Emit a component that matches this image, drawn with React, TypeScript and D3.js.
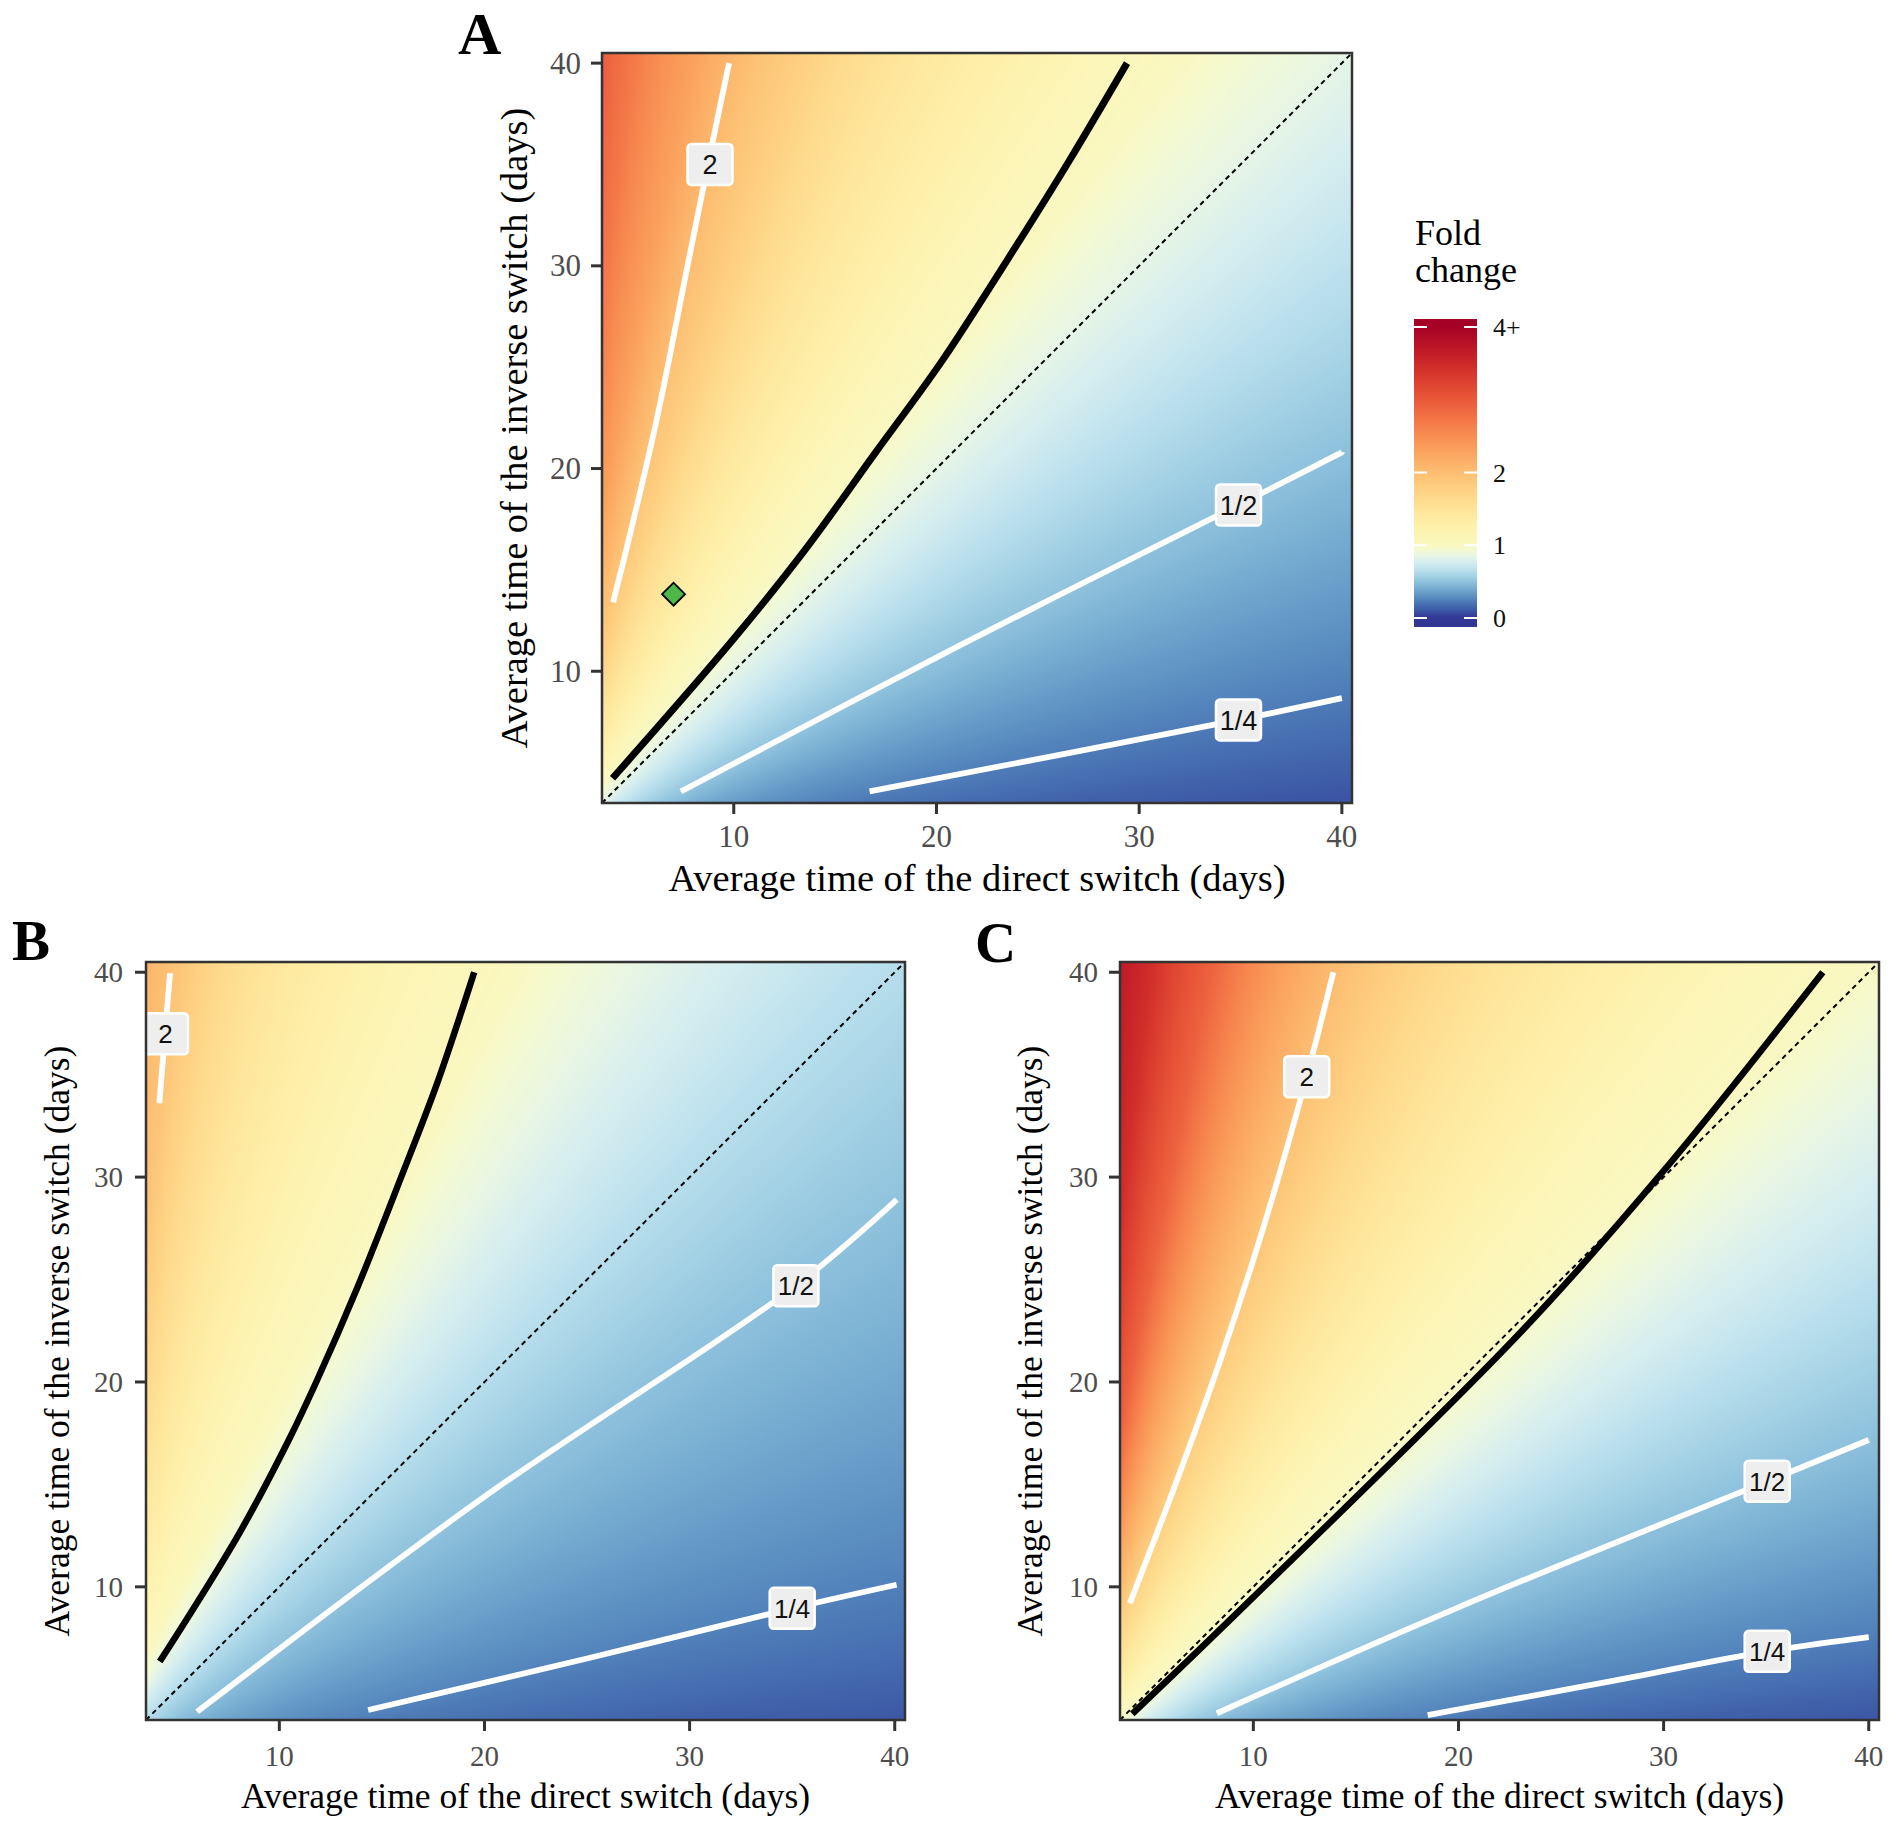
import React, { useMemo } from "react";
import * as d3 from "d3";

type Pt = [number, number];

// ---------------- data ----------------
// fold change profile as a function of the ratio (inverse time / direct time)
const ratioKnots = [0.08, 0.1, 0.15, 0.2, 0.3, 0.5, 0.7, 1, 1.5, 2, 3, 5, 8, 12];
const foldA = [0.085, 0.106, 0.156, 0.206, 0.3, 0.475, 0.634, 0.845, 1.14, 1.38, 1.78, 2.3, 2.7, 3.0];
const foldB = [0.1, 0.12, 0.164, 0.204, 0.275, 0.39, 0.49, 0.641, 0.87, 1.05, 1.25, 1.57, 1.93, 2.12];
const foldC = [0.09, 0.12, 0.185, 0.25, 0.357, 0.555, 0.733, 0.98, 1.3, 1.59, 2.09, 2.9, 3.45, 3.72];

// contour lines [direct time, inverse time]
const contourA2: Pt[] = [[4.05, 13.4], [4.92, 16.9], [6.24, 22.6], [7.72, 30.0], [8.83, 35.5], [9.77, 40]];
const contourA1: Pt[] = [[4.02, 4.72], [10, 11.6], [13.6, 16.1], [17, 20.8], [20.2, 25.2], [23.5, 30.3], [26.5, 35.1], [29.4, 40]];
const contourAHalf: Pt[] = [[7.39, 4.07], [21.2, 11.3], [34.9, 18.2], [40, 20.8]];
const contourAQuarter: Pt[] = [[16.7, 4.07], [34.9, 7.6], [40, 8.67]];

const contourB2: Pt[] = [[4.15, 33.6], [4.43, 37.0], [4.67, 39.95]];
const contourB1: Pt[] = [[4.17, 6.35], [8.04, 12.6], [10.46, 17.17], [11.8, 20.0], [13.8, 24.6], [15.9, 29.9], [17.7, 34.6], [19.5, 40]];
const contourBHalf: Pt[] = [[5.99, 3.9], [20, 14.4], [35.18, 24.7], [40.1, 28.9]];
const contourBQuarter: Pt[] = [[14.33, 3.99], [25, 6.5], [35, 8.95], [40.09, 10.1]];

const contourC2: Pt[] = [[3.98, 9.2], [6.2, 15.0], [8.4, 21.1], [10.6, 27.9], [12.6, 34.9], [13.9, 40]];
const contourC1: Pt[] = [[4.1, 3.8], [9.9, 9.4], [23.1, 22.5], [30, 30.3], [37.76, 40]];
const contourCHalf: Pt[] = [[8.22, 3.83], [20, 9.0], [35.05, 15.15], [40, 17.17]];
const contourCQuarter: Pt[] = [[18.5, 3.74], [27.2, 5.35], [35.05, 6.85], [40, 7.55]];

const labelsA = [
  { text: "2", x: 8.83, y: 35.0 },
  { text: "1/2", x: 34.9, y: 18.2 },
  { text: "1/4", x: 34.9, y: 7.6 },
];
const labelsB = [
  { text: "2", x: 4.45, y: 37.0 },
  { text: "1/2", x: 35.18, y: 24.7 },
  { text: "1/4", x: 35.0, y: 8.95 },
];
const labelsC = [
  { text: "2", x: 12.6, y: 34.9 },
  { text: "1/2", x: 35.05, y: 15.15 },
  { text: "1/4", x: 35.05, y: 6.85 },
];

const pointA: Pt = [7.03, 13.8];

const axisTicks = [10, 20, 30, 40];
const legendTicks = [0, 1, 2, 4];
const legendTickLabels = ["0", "1", "2", "4+"];

const xTitle = "Average time of the direct switch (days)";
const yTitle = "Average time of the inverse switch (days)";

// ---------------- styling / layout ----------------
const DOMAIN: [number, number] = [3.5, 40.5];
const SERIF = "'Liberation Serif', 'Times New Roman', Times, serif";
const SANS = "'Liberation Sans', Arial, Helvetica, sans-serif";

const colorScale = d3
  .scaleDiverging<string>()
  .domain([0, 1, 4])
  .interpolator((t: number) => d3.interpolateRdYlBu(1 - t))
  .clamp(true);

const LUT_N = 2048;
const LUT_MAX = 4.2;
const lut: [number, number, number][] = d3.range(LUT_N).map((i) => {
  const c = d3.rgb(colorScale((i / (LUT_N - 1)) * LUT_MAX));
  return [c.r, c.g, c.b];
});

function makeHeatmap(fold: number[], w: number, h: number): string {
  if (typeof document === "undefined") return "";
  const canvas = document.createElement("canvas");
  canvas.width = w;
  canvas.height = h;
  const ctx = canvas.getContext("2d");
  if (!ctx) return "";
  const img = ctx.createImageData(w, h);
  const xs = d3.scaleLinear().domain([0, w]).range(DOMAIN);
  const ys = d3.scaleLinear().domain([0, h]).range([DOMAIN[1], DOMAIN[0]]);
  const profile = d3
    .scaleLinear()
    .domain(ratioKnots.map(Math.log))
    .range(fold.map(Math.log))
    .clamp(true);
  for (let j = 0; j < h; j++) {
    const vy = ys(j + 0.5);
    for (let i = 0; i < w; i++) {
      const vx = xs(i + 0.5);
      const f = Math.exp(profile(Math.log(vy / vx)));
      let k = Math.round((f / LUT_MAX) * (LUT_N - 1));
      k = Math.max(0, Math.min(LUT_N - 1, k));
      const c = lut[k];
      const o = (j * w + i) * 4;
      img.data[o] = c[0];
      img.data[o + 1] = c[1];
      img.data[o + 2] = c[2];
      img.data[o + 3] = 255;
    }
  }
  ctx.putImageData(img, 0, 0);
  return canvas.toDataURL();
}

interface PanelProps {
  id: string;
  x0: number;
  y0: number;
  w: number;
  h: number;
  fold: number[];
  contours: { pts: Pt[]; level: number }[];
  labels: { text: string; x: number; y: number }[];
  letter: string;
  letterX: number;
  letterY: number;
  letterSize: number;
  tickSize: number;
  titleSize: number;
  yTickRight: number;
  xTickBase: number;
  xTitleBase: number;
  yTitleBase: number;
  blackWidth: number;
  whiteWidth: number;
  labelFont: number;
  point?: Pt;
}

function Panel(p: PanelProps) {
  const x = d3.scaleLinear().domain(DOMAIN).range([p.x0, p.x0 + p.w]);
  const y = d3.scaleLinear().domain(DOMAIN).range([p.y0 + p.h, p.y0]);
  const href = useMemo(() => makeHeatmap(p.fold, p.w, p.h), [p.fold, p.w, p.h]);
  const line = d3
    .line<Pt>()
    .x((d) => x(d[0]))
    .y((d) => y(d[1]))
    .curve(d3.curveCatmullRom.alpha(0.5));
  const clipId = `clip-${p.id}`;
  const tickLen = 11;
  const tickColor = "#333333";
  return (
    <g>
      <defs>
        <clipPath id={clipId}>
          <rect x={p.x0} y={p.y0} width={p.w} height={p.h} />
        </clipPath>
      </defs>
      <text x={p.letterX} y={p.letterY} fontFamily={SERIF} fontWeight="bold" fontSize={p.letterSize} fill="#000">
        {p.letter}
      </text>
      {href && (
        <image href={href} x={p.x0} y={p.y0} width={p.w} height={p.h} preserveAspectRatio="none" />
      )}
      <g clipPath={`url(#${clipId})`}>
        <line
          x1={x(DOMAIN[0])}
          y1={y(DOMAIN[0])}
          x2={x(DOMAIN[1])}
          y2={y(DOMAIN[1])}
          stroke="#000"
          strokeWidth={2}
          strokeDasharray="5 4"
        />
        {p.contours.map((c, i) => (
          <path
            key={i}
            d={line(c.pts) || ""}
            fill="none"
            stroke={c.level === 1 ? "#000" : "#fff"}
            strokeWidth={c.level === 1 ? p.blackWidth : p.whiteWidth}
            strokeLinecap="butt"
          />
        ))}
        {p.labels.map((l, i) => {
          const bw = 45;
          const bh = 41;
          return (
            <g key={i}>
              <rect
                x={x(l.x) - bw / 2}
                y={y(l.y) - bh / 2}
                width={bw}
                height={bh}
                rx={4}
                fill="#eeeeee"
                stroke="#ffffff"
                strokeWidth={2.5}
              />
              <text
                x={x(l.x)}
                y={y(l.y) + p.labelFont * 0.36}
                textAnchor="middle"
                fontFamily={SANS}
                fontSize={p.labelFont}
                fill="#111"
              >
                {l.text}
              </text>
            </g>
          );
        })}
        {p.point && (
          <path
            d={`M${x(p.point[0]) - 11.5},${y(p.point[1])}L${x(p.point[0])},${y(p.point[1]) - 11.5}L${
              x(p.point[0]) + 11.5
            },${y(p.point[1])}L${x(p.point[0])},${y(p.point[1]) + 11.5}Z`}
            fill="#4db848"
            stroke="#000"
            strokeWidth={1.8}
          />
        )}
      </g>
      <rect x={p.x0} y={p.y0} width={p.w} height={p.h} fill="none" stroke={tickColor} strokeWidth={2.5} />
      {axisTicks.map((t) => (
        <g key={`x${t}`}>
          <line x1={x(t)} x2={x(t)} y1={p.y0 + p.h} y2={p.y0 + p.h + tickLen} stroke={tickColor} strokeWidth={3} />
          <text x={x(t)} y={p.xTickBase} textAnchor="middle" fontFamily={SERIF} fontSize={p.tickSize} fill="#4d4d4d">
            {t}
          </text>
        </g>
      ))}
      {axisTicks.map((t) => (
        <g key={`y${t}`}>
          <line x1={p.x0 - tickLen} x2={p.x0} y1={y(t)} y2={y(t)} stroke={tickColor} strokeWidth={3} />
          <text
            x={p.yTickRight}
            y={y(t) + p.tickSize * 0.34}
            textAnchor="end"
            fontFamily={SERIF}
            fontSize={p.tickSize}
            fill="#4d4d4d"
          >
            {t}
          </text>
        </g>
      ))}
      <text x={p.x0 + p.w / 2} y={p.xTitleBase} textAnchor="middle" fontFamily={SERIF} fontSize={p.titleSize} fill="#000">
        {xTitle}
      </text>
      <text
        transform={`translate(${p.yTitleBase},${p.y0 + p.h / 2}) rotate(-90)`}
        textAnchor="middle"
        fontFamily={SERIF}
        fontSize={p.titleSize}
        fill="#000"
      >
        {yTitle}
      </text>
    </g>
  );
}

function Legend() {
  const barX = 1414;
  const barW = 63;
  const barTop = 319;
  const barBottom = 627;
  const ly = d3.scaleLinear().domain([0, 4]).range([618, 327]);
  const vTop = ly.invert(barTop);
  const vBottom = ly.invert(barBottom);
  const stops = d3.range(0, 61).map((i) => {
    const v = vBottom + ((vTop - vBottom) * i) / 60;
    return { offset: i / 60, color: colorScale(Math.max(0, Math.min(4, v))) };
  });
  return (
    <g>
      <defs>
        <linearGradient id="legendGrad" x1="0" y1="1" x2="0" y2="0">
          {stops.map((s, i) => (
            <stop key={i} offset={s.offset} stopColor={s.color} />
          ))}
        </linearGradient>
      </defs>
      <text x={1415} y={245} fontFamily={SERIF} fontSize={36} fill="#000">
        Fold
      </text>
      <text x={1415} y={282} fontFamily={SERIF} fontSize={36} fill="#000">
        change
      </text>
      <rect x={barX} y={barTop} width={barW} height={barBottom - barTop} fill="url(#legendGrad)" />
      {legendTicks.map((t, i) => (
        <g key={t}>
          <line x1={barX} x2={barX + 13} y1={ly(t)} y2={ly(t)} stroke="#fff" strokeWidth={2} />
          <line x1={barX + barW - 13} x2={barX + barW} y1={ly(t)} y2={ly(t)} stroke="#fff" strokeWidth={2} />
          <text x={1493} y={ly(t) + 9} fontFamily={SERIF} fontSize={26} fill="#111">
            {legendTickLabels[i]}
          </text>
        </g>
      ))}
    </g>
  );
}

export default function App() {
  return (
    <svg
      width={1899}
      height={1823}
      viewBox="0 0 1899 1823"
      style={{ position: "absolute", left: 0, top: 0, display: "block", background: "#fff" }}
    >
      <rect x={0} y={0} width={1899} height={1823} fill="#fff" />
      <Panel
        id="A"
        x0={602}
        y0={53}
        w={750}
        h={750}
        fold={foldA}
        contours={[
          { pts: contourA2, level: 2 },
          { pts: contourAHalf, level: 0.5 },
          { pts: contourAQuarter, level: 0.25 },
          { pts: contourA1, level: 1 },
        ]}
        labels={labelsA}
        letter="A"
        letterX={458}
        letterY={54}
        letterSize={60}
        tickSize={31}
        titleSize={38.5}
        yTickRight={581}
        xTickBase={847}
        xTitleBase={891}
        yTitleBase={527}
        blackWidth={7}
        whiteWidth={5.8}
        labelFont={27}
        point={pointA}
      />
      <Panel
        id="B"
        x0={146}
        y0={962}
        w={759}
        h={758}
        fold={foldB}
        contours={[
          { pts: contourB2, level: 2 },
          { pts: contourBHalf, level: 0.5 },
          { pts: contourBQuarter, level: 0.25 },
          { pts: contourB1, level: 1 },
        ]}
        labels={labelsB}
        letter="B"
        letterX={12}
        letterY={960}
        letterSize={57}
        tickSize={29}
        titleSize={35.5}
        yTickRight={123}
        xTickBase={1766}
        xTitleBase={1808}
        yTitleBase={69}
        blackWidth={6.5}
        whiteWidth={5.8}
        labelFont={26}
      />
      <Panel
        id="C"
        x0={1120}
        y0={962}
        w={759}
        h={758}
        fold={foldC}
        contours={[
          { pts: contourC2, level: 2 },
          { pts: contourCHalf, level: 0.5 },
          { pts: contourCQuarter, level: 0.25 },
          { pts: contourC1, level: 1 },
        ]}
        labels={labelsC}
        letter="C"
        letterX={975}
        letterY={962}
        letterSize={57}
        tickSize={29}
        titleSize={35.5}
        yTickRight={1098}
        xTickBase={1766}
        xTitleBase={1808}
        yTitleBase={1042}
        blackWidth={6.5}
        whiteWidth={5.8}
        labelFont={26}
      />
      <Legend />
    </svg>
  );
}
